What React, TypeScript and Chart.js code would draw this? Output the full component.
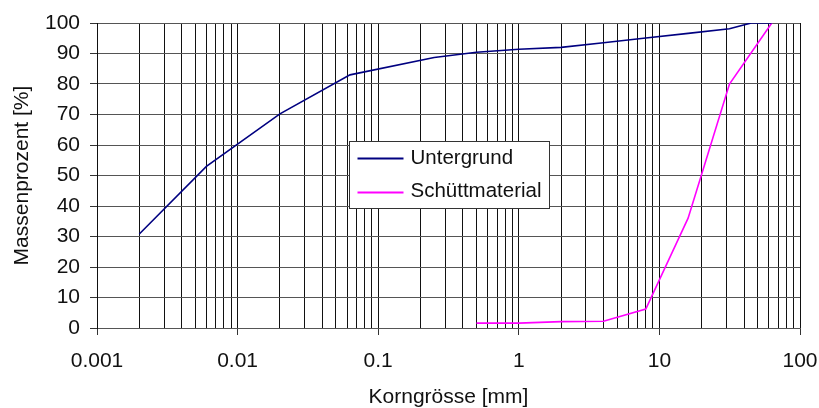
import React, { useEffect, useRef } from 'react';
import { Chart, registerables } from 'chart.js';

Chart.register(...registerables);

// ---- data ----
const seriesLabels = ['Untergrund', 'Schüttmaterial'];
const seriesColors = ['#000080', '#ff00ff'];

const untergrundSize = [0.002, 0.006, 0.02, 0.063, 0.25, 0.5, 1, 2, 4, 8, 16, 31.5, 45, 63];
const untergrundPct = [30.8, 53, 70.2, 83, 88.7, 90.4, 91.4, 92, 93.5, 95.1, 96.6, 98.1, 100, 100];

const schuettSize = [0.5, 1, 2, 4, 8, 16, 31.5, 63];
const schuettPct = [1.6, 1.6, 2.1, 2.2, 6.2, 36, 80, 100];

const xDecades = [0.001, 0.01, 0.1, 1, 10, 100];
const xMinorMultipliers = [2, 3, 4, 5, 6, 7, 8, 9];
const yTickValues = [0, 10, 20, 30, 40, 50, 60, 70, 80, 90, 100];

const xTitle = 'Korngrösse [mm]';
const yTitle = 'Massenprozent [%]';

const FONT = '"Liberation Sans", Arial, sans-serif';

const isDecade = (v: number) => Math.abs(Math.log10(v) - Math.round(Math.log10(v))) < 1e-6;

const xGridValues: number[] = [];
xDecades.forEach((d, i) => {
  xGridValues.push(d);
  if (i < xDecades.length - 1) xMinorMultipliers.forEach((m) => xGridValues.push(d * m));
});

const boxLegend = {
  id: 'boxLegend',
  afterDatasetsDraw(chart: any, _args: any, opts: any) {
    const { ctx, chartArea: a } = chart;
    const w = a.right - a.left;
    const h = a.bottom - a.top;
    const x0 = Math.round(a.left + opts.left * w) + 0.5;
    const x1 = Math.round(a.left + opts.right * w) + 0.5;
    const y0 = Math.round(a.top + opts.top * h) + 0.5;
    const y1 = Math.round(a.top + opts.bottom * h) + 0.5;
    ctx.save();
    ctx.fillStyle = '#ffffff';
    ctx.fillRect(x0, y0, x1 - x0, y1 - y0);
    ctx.strokeStyle = '#333333';
    ctx.lineWidth = 1;
    ctx.strokeRect(x0, y0, x1 - x0, y1 - y0);
    const n = chart.data.datasets.length;
    const rowH = (y1 - y0) / n;
    ctx.font = `${opts.fontSize}px ${FONT}`;
    ctx.textBaseline = 'middle';
    ctx.textAlign = 'left';
    chart.data.datasets.forEach((ds: any, i: number) => {
      const cy = y0 + rowH * (i + 0.5);
      ctx.strokeStyle = ds.borderColor;
      ctx.lineWidth = 2;
      ctx.beginPath();
      ctx.moveTo(x0 + 8, Math.round(cy) + 0.5);
      ctx.lineTo(x0 + 54, Math.round(cy) + 0.5);
      ctx.stroke();
      ctx.fillStyle = '#111111';
      ctx.fillText(ds.label, x0 + 61, cy);
    });
    ctx.restore();
  },
};

export default function App() {
  const ref = useRef<HTMLCanvasElement | null>(null);

  useEffect(() => {
    if (!ref.current) return;
    const chart = new Chart(ref.current, {
      type: 'line',
      data: {
        datasets: [
          {
            label: seriesLabels[0],
            data: untergrundSize.map((x, i) => ({ x, y: untergrundPct[i] })),
            borderColor: seriesColors[0],
            backgroundColor: seriesColors[0],
            borderWidth: 1.6,
            pointRadius: 0,
            tension: 0,
            fill: false,
          },
          {
            label: seriesLabels[1],
            data: schuettSize.map((x, i) => ({ x, y: schuettPct[i] })),
            borderColor: seriesColors[1],
            backgroundColor: seriesColors[1],
            borderWidth: 1.6,
            pointRadius: 0,
            tension: 0,
            fill: false,
          },
        ],
      },
      options: {
        responsive: false,
        animation: false,
        devicePixelRatio: 1,
        layout: { padding: { top: 23, right: 19, left: 0, bottom: 0 } },
        plugins: {
          legend: { display: false },
          tooltip: { enabled: false },
          boxLegend: { left: 0.3585, right: 0.6434, top: 0.386, bottom: 0.6075, fontSize: 20.5 },
        } as any,
        scales: {
          x: {
            type: 'logarithmic',
            min: xDecades[0],
            max: xDecades[xDecades.length - 1],
            afterBuildTicks: (scale: any) => {
              scale.ticks = xGridValues.map((v) => ({ value: v, major: isDecade(v) }));
            },
            afterFit: (scale: any) => {
              scale.height = 80;
              scale.paddingRight = 0;
            },
            grid: {
              color: '#111111',
              lineWidth: 1,
              tickLength: 7,
              tickColor: (c: any) => (c.tick && isDecade(c.tick.value) ? '#333333' : 'rgba(0,0,0,0)'),
            },
            border: { display: true, color: '#555555' },
            ticks: {
              autoSkip: false,
              maxRotation: 0,
              padding: 14,
              color: '#111111',
              font: { family: FONT, size: 21 },
              callback: (v: any) => (isDecade(Number(v)) ? String(Number(v)) : ''),
            },
            title: {
              display: true,
              text: xTitle,
              color: '#111111',
              font: { family: FONT, size: 21, lineHeight: 1 },
              padding: { top: 0, bottom: 0 },
            },
          },
          y: {
            type: 'linear',
            min: yTickValues[0],
            max: yTickValues[yTickValues.length - 1],
            afterBuildTicks: (scale: any) => {
              scale.ticks = yTickValues.map((v) => ({ value: v }));
            },
            afterFit: (scale: any) => {
              scale.width = 97;
            },
            grid: {
              color: '#555555',
              lineWidth: 1,
              tickLength: 7,
              tickColor: '#333333',
            },
            border: { display: true, color: '#111111' },
            ticks: {
              padding: 10,
              color: '#111111',
              font: { family: FONT, size: 21 },
            },
            title: {
              display: true,
              text: yTitle,
              color: '#111111',
              font: { family: FONT, size: 21, lineHeight: 1 },
              padding: { top: 12, bottom: 0 },
            },
          },
        },
      },
      plugins: [boxLegend],
    } as any);
    return () => chart.destroy();
  }, []);

  return (
    <div style={{ position: 'absolute', left: 0, top: 0, width: 819, height: 408, background: '#fff' }}>
      <canvas ref={ref} width={819} height={408} style={{ display: 'block' }} />
    </div>
  );
}
